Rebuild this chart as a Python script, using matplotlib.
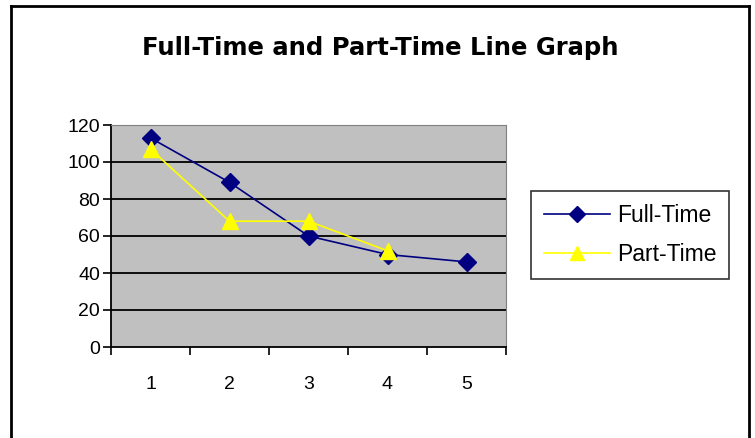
import matplotlib.pyplot as plt
from matplotlib.lines import Line2D

categories = [1, 2, 3, 4, 5]
full_time = [113, 89, 60, 50, 46]
part_time = [107, 68, 68, 52]
yticks = [0, 20, 40, 60, 80, 100, 120]

plt.rcParams['font.family'] = ['Liberation Sans', 'DejaVu Sans']

fig = plt.figure(figsize=(7.55, 4.38), dpi=100)
W, H = 755, 438

# outer chart border (left, top, right)
fig.add_artist(Line2D([11 / W, 11 / W], [0, 1 - 6 / H], color='black', lw=2))
fig.add_artist(Line2D([11 / W, 749 / W], [1 - 6 / H, 1 - 6 / H], color='black', lw=2))
fig.add_artist(Line2D([749 / W, 749 / W], [0, 1 - 6 / H], color='black', lw=2))

ax = fig.add_axes([111 / W, 1 - 347 / H, (506 - 111) / W, (347 - 125) / H])
ax.set_facecolor('#C0C0C0')
ax.set_xlim(0.5, 5.5)
ax.set_ylim(0, 120)

for y in yticks[1:-1]:
    ax.axhline(y, color='black', lw=1.3, zorder=1)

ax.plot(categories, full_time, color='#000080', marker='D', markersize=9,
        lw=1.2, label='Full-Time', zorder=3)
ax.plot(categories[:len(part_time)], part_time, color='#FFFF00', marker='^',
        markersize=12, lw=1.2, label='Part-Time', zorder=4)

ax.set_yticks(yticks)
ax.set_xticks([c + 0.5 for c in [0] + categories])
ax.set_xticklabels([])
ax.set_xticks(categories, minor=True)
ax.set_xticklabels([str(c) for c in categories], minor=True)
ax.tick_params(axis='x', which='minor', length=0, pad=21, labelsize=14)
ax.tick_params(axis='x', which='major', direction='out', length=6, width=1.2)
ax.tick_params(axis='y', direction='out', length=6, width=1.2, labelsize=14, pad=2)

ax.spines['left'].set_linewidth(1.3)
ax.spines['bottom'].set_linewidth(1.3)
ax.spines['top'].set_color('#808080')
ax.spines['right'].set_color('#808080')

fig.text(380 / W, 1 - 48 / H, 'Full-Time and Part-Time Line Graph',
         ha='center', va='center', fontsize=17.5, fontweight='bold',
         family='DejaVu Sans')

leg = ax.legend(loc='center left', bbox_to_anchor=(531 / W, 1 - 235 / H),
                bbox_transform=fig.transFigure, fontsize=16.5, frameon=True,
                fancybox=False, edgecolor='black', handlelength=2.9,
                handletextpad=0.3, borderpad=0.55, labelspacing=0.7,
                borderaxespad=0, markerscale=0.85)
leg.get_frame().set_linewidth(1.2)

fig.savefig('out.png', dpi=100)
